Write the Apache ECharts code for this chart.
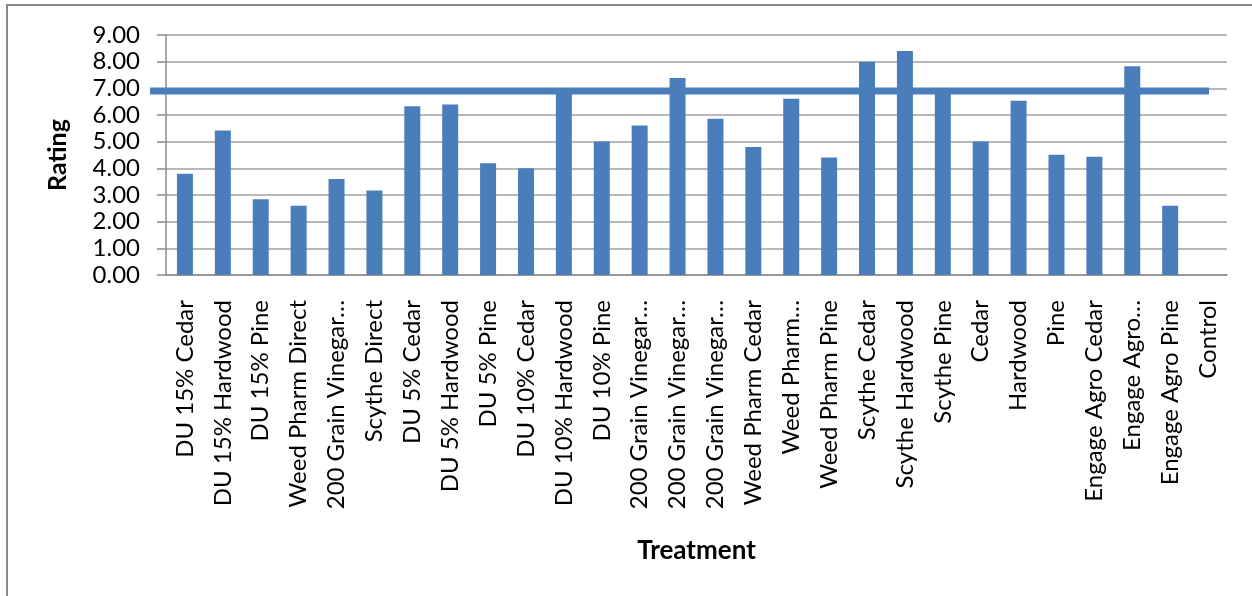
<!DOCTYPE html>
<html>
<head>
<meta charset="utf-8">
<script src="https://cdn.jsdelivr.net/npm/echarts@6/dist/echarts.min.js"></script>
<style>
html,body{margin:0;padding:0;background:#fff;}
#chart{width:1252px;height:596px;}
</style>
</head>
<body>
<div id="chart"></div>
<script>
const categories = [
  "DU 15% Cedar", "DU 15% Hardwood", "DU 15% Pine", "Weed Pharm Direct",
  "200 Grain Vinegar…", "Scythe Direct", "DU 5% Cedar", "DU 5% Hardwood",
  "DU 5% Pine", "DU 10% Cedar", "DU 10% Hardwood", "DU 10% Pine",
  "200 Grain Vinegar…", "200 Grain Vinegar…", "200 Grain Vinegar…", "Weed Pharm Cedar",
  "Weed Pharm…", "Weed Pharm Pine", "Scythe Cedar", "Scythe Hardwood",
  "Scythe Pine", "Cedar", "Hardwood", "Pine",
  "Engage Agro Cedar", "Engage Agro…", "Engage Agro Pine", "Control"
];
const ratings = [
  3.80, 5.42, 2.84, 2.60,
  3.60, 3.17, 6.33, 6.39,
  4.19, 4.00, 6.90, 5.01,
  5.61, 7.39, 5.86, 4.80,
  6.61, 4.41, 8.00, 8.40,
  6.90, 5.01, 6.53, 4.51,
  4.43, 7.83, 2.60, 0
];
const thresholdLine = [6.9, 6.9];
const thresholdEnds = ["start", "end"];

const FONT = "Lato";
const chart = echarts.init(document.getElementById('chart'));
chart.setOption({
  animation: false,
  backgroundColor: '#ffffff',
  textStyle: { fontFamily: FONT },
  graphic: [{
    type: 'rect', z: 0,
    shape: { x: 7, y: 5, width: 1400, height: 800 },
    style: { fill: 'none', stroke: '#8a8a8a', lineWidth: 2 }
  }],
  grid: [
    { left: 166, right: 25, top: 35, bottom: 321, containLabel: false },
    { left: 150, right: 43, top: 35, bottom: 321, containLabel: false }
  ],
  xAxis: [{
    type: 'category',
    gridIndex: 0,
    data: categories,
    name: 'Treatment',
    nameLocation: 'middle',
    nameGap: 263,
    nameTextStyle: { fontFamily: FONT, fontSize: 26, fontWeight: 'bold', color: '#000' },
    axisLine: { lineStyle: { color: '#8c8c8c', width: 1.5 } },
    axisTick: { show: false },
    axisLabel: { interval: 0, rotate: 90, margin: 25, fontFamily: FONT, fontSize: 24, color: '#000' }
  }, {
    type: 'category',
    gridIndex: 1,
    data: thresholdEnds,
    boundaryGap: false,
    show: false
  }],
  yAxis: [{
    type: 'value',
    gridIndex: 0,
    min: 0, max: 9, interval: 1,
    name: 'Rating',
    nameLocation: 'middle',
    nameGap: 96,
    nameTextStyle: { fontFamily: FONT, fontSize: 25, fontWeight: 'bold', color: '#000' },
    axisLine: { show: true, lineStyle: { color: '#8c8c8c', width: 1.5 } },
    axisTick: { show: true, length: 9, lineStyle: { color: '#8c8c8c', width: 1.5 } },
    splitLine: { lineStyle: { color: '#a0a0a0', width: 1.5 } },
    axisLabel: { margin: 26, fontFamily: FONT, fontSize: 24, color: '#000',
      formatter: v => v.toFixed(2) }
  }, {
    type: 'value',
    gridIndex: 1,
    min: 0, max: 9, interval: 1,
    show: false
  }],
  series: [{
    type: 'bar',
    xAxisIndex: 0, yAxisIndex: 0,
    data: ratings,
    barWidth: 16,
    itemStyle: { color: '#4a7ebb' },
    z: 2
  }, {
    type: 'line',
    xAxisIndex: 1, yAxisIndex: 1,
    data: thresholdLine,
    symbol: 'none',
    clip: false,
    lineStyle: { color: '#4a7ebb', width: 7, cap: 'butt' },
    z: 5
  }]
});
</script>
</body>
</html>
